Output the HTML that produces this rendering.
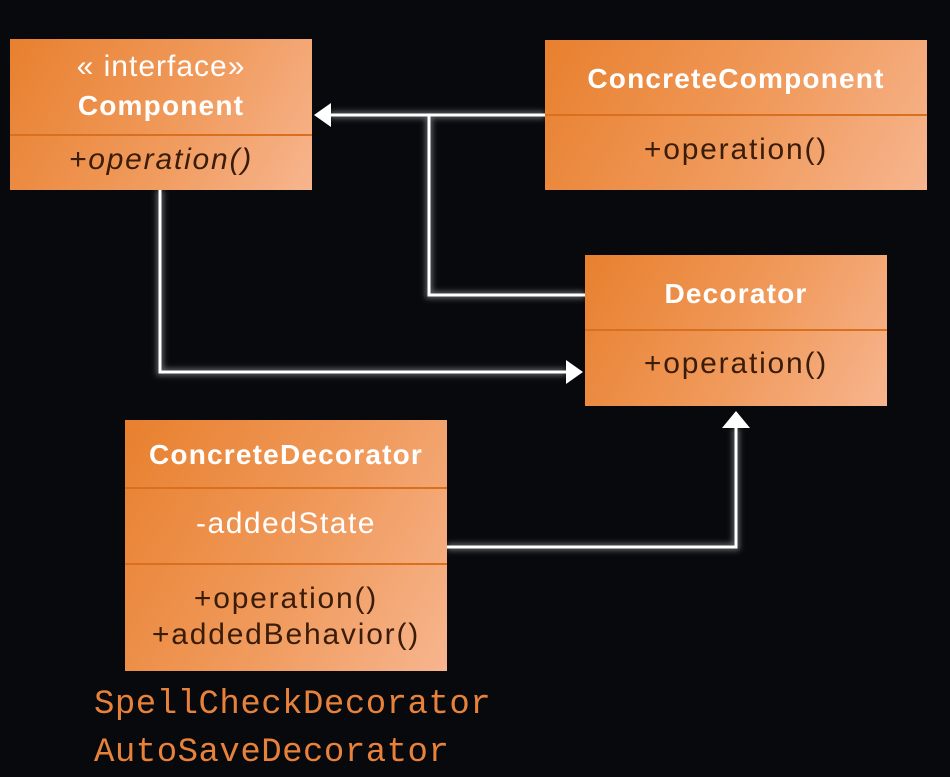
<!DOCTYPE html>
<html><head><style>
body{margin:0;width:950px;height:777px;background:#07090d;overflow:hidden;position:relative;font-family:"Liberation Sans",sans-serif}
.box{position:absolute;background:linear-gradient(120deg,#e8802e 0%,#f09a5c 55%,#f7b58e 100%);color:#fff;text-align:center}
.div{position:absolute;left:0;right:0;height:2px;background:#d9701f}
.t{position:absolute;left:0;right:0;text-align:center;white-space:nowrap}
.b{font-weight:bold;font-size:28px;letter-spacing:1.2px}
.d{color:#3a1c08;font-size:30px;letter-spacing:1.8px}
.mono{position:absolute;font-family:"Liberation Mono",monospace;color:#e8823a;font-size:34px;letter-spacing:0.5px;left:94px}
</style></head><body>
<svg width="950" height="777" style="position:absolute;left:0;top:0">
<defs><filter id="g"><feGaussianBlur stdDeviation="3"/></filter></defs>
<g stroke="#ffffff" stroke-width="7" fill="none" opacity="0.35" filter="url(#g)">
<path d="M545 115H330M429 115V295H585M160 190V372H566M447 547H736V428"/>
</g>
<g stroke="#ffffff" stroke-width="3" fill="none">
<path d="M545 115H330M429 115V295H585M160 190V372H566M447 547H736V428"/>
</g>
<g fill="#ffffff">
<polygon points="314,115 331,103 331,127"/>
<polygon points="583,372 566,360 566,384"/>
<polygon points="736,411 722,428 750,428"/>
</g>
</svg>
<div class="box" style="left:10px;top:39px;width:302px;height:151px">
<div class="t" style="top:11px;font-size:30px;letter-spacing:1px">« interface»</div>
<div class="t b" style="top:51px">Component</div>
<div class="div" style="top:95px"></div>
<div class="t d" style="top:104px;font-style:italic">+operation()</div>
</div>
<div class="box" style="left:545px;top:40px;width:382px;height:150px">
<div class="t b" style="top:23px">ConcreteComponent</div>
<div class="div" style="top:74px"></div>
<div class="t d" style="top:93px">+operation()</div>
</div>
<div class="box" style="left:585px;top:255px;width:302px;height:151px">
<div class="t b" style="top:23px">Decorator</div>
<div class="div" style="top:74px"></div>
<div class="t d" style="top:92px">+operation()</div>
</div>
<div class="box" style="left:125px;top:420px;width:322px;height:251px">
<div class="t b" style="top:19px">ConcreteDecorator</div>
<div class="div" style="top:67px"></div>
<div class="t" style="top:87px;font-size:30px;letter-spacing:1.5px">-addedState</div>
<div class="div" style="top:143px"></div>
<div class="t d" style="top:162px">+operation()</div>
<div class="t d" style="top:198px">+addedBehavior()</div>
</div>
<div class="mono" style="top:686px">SpellCheckDecorator</div>
<div class="mono" style="top:734px">AutoSaveDecorator</div>
</body></html>
